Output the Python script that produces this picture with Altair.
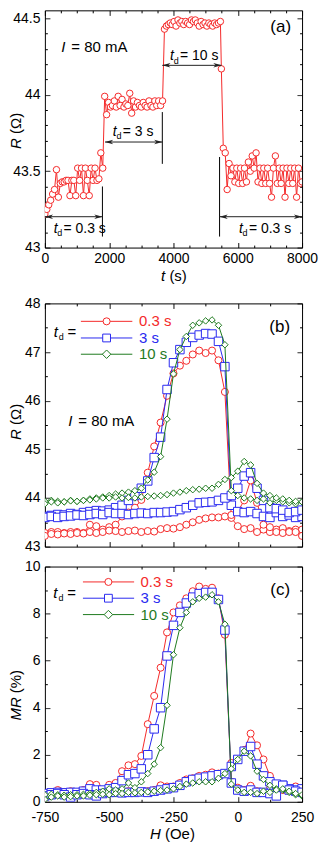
import altair as alt
import pandas as pd

FONT = "Liberation Sans"
RED, BLUE, GREEN = "#f42a2a", "#2a2af0", "#1f7a1f"
INK = "#222222"

# ---------------- panel (a): R vs t ----------------
t_a = [0, 60, 120, 180, 240, 300, 360, 420, 480, 540, 600, 660, 720, 780, 840, 900,
       960, 1020, 1080, 1140, 1200, 1260, 1320, 1380, 1440, 1500, 1560, 1620, 1680, 1740, 1800,
       1860, 1920, 1980, 2040, 2100, 2160, 2220, 2280, 2340, 2400, 2460, 2520, 2580, 2640, 2700,
       2760, 2820, 2880, 2940, 3000, 3060, 3120, 3180, 3240, 3300, 3360, 3420, 3480, 3540, 3600, 3660,
       3720, 3780, 3840, 3900, 3960, 4020, 4080, 4140, 4200, 4260, 4320, 4380, 4440, 4500, 4560,
       4620, 4680, 4740, 4800, 4860, 4920, 4980, 5040, 5100, 5160, 5220, 5280, 5340, 5400, 5460,
       5490, 5550, 5610, 5670, 5730, 5790, 5850, 5910, 5970, 6030, 6090, 6150, 6210, 6270, 6330,
       6390, 6450, 6510, 6570, 6630, 6690, 6750, 6810, 6870, 6930, 6990, 7050, 7110, 7170, 7230,
       7290, 7350, 7410, 7470, 7530, 7590, 7650, 7710, 7770, 7830, 7890, 7950, 8000]
R_a = [43.22, 43.25, 43.28, 43.31, 43.35, 43.38, 43.51, 43.33, 43.42, 43.43, 43.43, 43.44, 43.44,
       43.34, 43.44, 43.44, 43.34, 43.52, 43.44, 43.52, 43.34, 43.52, 43.44, 43.34, 43.52, 43.44,
       43.52, 43.44, 43.45, 43.62, 43.52,
       43.99, 43.87, 43.95, 43.92, 43.93, 43.96, 43.92, 43.99, 43.93, 43.97, 43.92, 43.94, 43.93,
       44.01, 43.88, 43.96, 43.92, 43.95, 43.93, 43.92, 43.95, 43.93, 43.92, 43.96, 43.93, 43.92,
       43.96, 43.93, 43.96, 43.93, 43.96,
       44.43, 44.45, 44.46, 44.47, 44.46, 44.48, 44.45, 44.49, 44.47, 44.48, 44.46, 44.48, 44.47,
       44.46, 44.49, 44.48, 44.49, 44.47, 44.45, 44.48, 44.46, 44.47, 44.45, 44.47, 44.46, 44.45,
       44.47, 44.46, 44.47, 44.48,
       44.17, 43.65, 43.62, 43.38, 43.55, 43.47, 43.52, 43.43, 43.52, 43.42, 43.52, 43.42, 43.52,
       43.43, 43.56, 43.50, 43.60, 43.52, 43.62, 43.43, 43.52, 43.42, 43.52, 43.42, 43.52, 43.42,
       43.33, 43.52, 43.60, 43.42, 43.52, 43.42, 43.52, 43.33, 43.52, 43.42, 43.52, 43.42, 43.52,
       43.33, 43.52, 43.42, 43.43]

# annotations of panel (a), in data units
arrow_t1 = [0, 1872, 3653, 5434]
arrow_t2 = [1790, 3653, 5494, 8000]
arrow_R = [43.202, 43.691, 44.193, 43.202]
vline_t = [1790, 3653, 5434]
vline_R1 = [43.072, 43.548, 43.072]
vline_R2 = [43.40, 43.887, 43.593]
td_t = [272, 2113, 3894, 6038]
td_R = [43.124, 43.757, 44.252, 43.124]
td_text = ["= 0.3 s", "= 3 s", "= 10 s", "= 0.3 s"]
note_a = {"tag": (7336, 44.441), "current": (513, 44.311)}

# ---------------- panels (b), (c): field sweeps ----------------
H = [-750, -725, -700, -675, -650, -625, -600, -575, -550, -525, -500, -475, -450, -425,
     -400, -375, -350, -325, -300, -275, -250, -225, -200, -175, -150, -125, -100, -75,
     -50, -25, 0, 25, 50, 75, 100, 125, 150, 175, 200, 225, 250]
series = ["0.3 s", "3 s", "10 s"]

# R (ohm): branch with the large peak (A) and branch with the small peak (B)
R_03_A = [43.28, 43.30, 43.30, 43.28, 43.30, 43.30, 43.28, 43.45, 43.42, 43.35, 43.40, 43.45, 43.62, 43.70,
          43.80, 43.96, 44.52, 45.06, 45.55, 46.10, 46.56, 46.72, 46.82, 46.95, 47.03, 46.98, 47.03, 46.83,
          46.18, 43.59, 43.42, 43.36, 43.38, 43.30, 43.35, 43.30, 43.35, 43.38, 43.32, 43.35, 43.35]
R_03_B = [43.22, 43.26, 43.25, 43.27, 43.26, 43.28, 43.27, 43.30, 43.28, 43.30, 43.33, 43.32, 43.30, 43.32,
          43.33, 43.30, 43.32, 43.31, 43.36, 43.38, 43.37, 43.40, 43.45, 43.50, 43.55, 43.58, 43.60, 43.60,
          43.62, 43.65, 43.72, 43.95, 44.36, 43.90, 43.45, 43.40, 43.30, 43.28, 43.30, 43.30, 43.22]
R_3_A = [43.62, 43.64, 43.66, 43.65, 43.68, 43.66, 43.70, 43.72, 43.74, 43.73, 43.75, 43.80, 43.85, 43.95,
         44.05, 44.20, 44.35, 44.83, 45.25, 46.23, 46.78, 47.05, 47.20, 47.30, 47.35, 47.38, 47.37, 47.22,
         46.70, 43.85, 43.72, 43.70, 43.72, 43.68, 43.62, 43.60, 43.70, 43.62, 43.65, 43.60, 43.62]
R_3_B = [43.60, 43.62, 43.60, 43.62, 43.63, 43.65, 43.64, 43.66, 43.68, 43.66, 43.70, 43.68, 43.68, 43.66,
         43.68, 43.69, 43.68, 43.70, 43.70, 43.71, 43.72, 43.76, 43.80, 43.85, 43.90, 43.91, 43.92, 43.95,
         44.00, 44.05, 44.20, 44.45, 44.52, 44.20, 43.95, 43.80, 43.78, 43.75, 43.70, 43.72, 43.75]
R_10_A = [43.93, 43.95, 43.93, 43.92, 43.95, 43.93, 43.95, 43.98, 44.00, 44.02, 44.05, 44.08, 44.10, 44.12,
          44.15, 44.20, 44.37, 44.53, 44.85, 45.62, 46.55, 47.05, 47.32, 47.55, 47.60, 47.64, 47.66, 47.55,
          47.15, 44.15, 44.05, 44.00, 43.98, 43.95, 43.98, 43.90, 43.95, 43.92, 43.90, 43.88, 43.92]
R_10_B = [43.88, 43.92, 43.90, 43.92, 43.94, 43.93, 43.95, 43.96, 43.98, 44.00, 44.00, 44.02, 44.00, 44.01,
          44.00, 44.02, 44.03, 44.04, 44.05, 44.07, 44.10, 44.12, 44.15, 44.17, 44.18, 44.20, 44.20, 44.28,
          44.38, 44.42, 44.55, 44.75, 44.68, 44.30, 44.10, 44.05, 44.00, 43.98, 43.95, 43.93, 43.92]

# MR (%)
MR_03_A = [0.35, 0.40, 0.45, 0.42, 0.45, 0.40, 0.50, 0.75, 0.72, 0.50, 0.72, 0.80, 1.30, 1.55,
           1.60, 1.95, 3.30, 4.50, 5.70, 7.20, 8.05, 8.35, 8.65, 8.95, 9.15, 9.05, 9.10, 8.65,
           7.10, 0.85, 0.60, 0.50, 0.68, 0.45, 0.40, 0.55, 0.60, 0.50, 0.55, 0.62, 0.50]
MR_03_B = [0.20, 0.30, 0.50, 0.35, 0.30, 0.35, 0.30, 0.40, 0.35, 0.40, 0.45, 0.40, 0.42, 0.45,
           0.45, 0.42, 0.45, 0.50, 0.70, 0.65, 0.65, 0.80, 0.95, 1.00, 1.10, 1.15, 1.25, 1.20,
           1.20, 1.65, 1.80, 2.20, 2.90, 2.40, 1.80, 1.10, 0.70, 0.60, 0.50, 0.65, 0.35]
MR_3_A = [0.35, 0.38, 0.40, 0.38, 0.40, 0.40, 0.45, 0.55, 0.50, 0.50, 0.55, 0.60, 0.90, 1.15,
          1.20, 1.40, 2.00, 3.10, 4.00, 6.20, 7.50, 8.05, 8.45, 8.70, 8.85, 8.90, 8.90, 8.60,
          7.30, 0.80, 0.50, 0.45, 0.50, 0.40, 0.40, 0.35, 0.25, 0.70, 0.55, 0.50, 0.55]
MR_3_B = [0.25, 0.30, 0.35, 0.30, 0.20, 0.30, 0.35, 0.30, 0.25, 0.35, 0.40, 0.40, 0.38, 0.40,
          0.40, 0.42, 0.40, 0.45, 0.50, 0.55, 0.60, 0.70, 0.85, 0.95, 1.00, 1.05, 1.10, 1.15,
          1.20, 1.50, 1.80, 2.15, 2.35, 1.60, 1.10, 0.85, 0.75, 0.70, 0.50, 0.45, 0.40]
MR_10_A = [0.30, 0.32, 0.30, 0.28, 0.30, 0.30, 0.32, 0.35, 0.40, 0.45, 0.55, 0.50, 0.55, 0.80,
           0.60, 0.85, 1.20, 1.60, 2.30, 4.10, 6.25, 7.40, 8.05, 8.50, 8.65, 8.70, 8.80, 8.50,
           7.55, 0.75, 0.50, 0.40, 0.40, 0.35, 0.45, 0.40, 0.55, 0.50, 0.40, 0.30, 0.25]
MR_10_B = [0.10, 0.20, 0.25, 0.20, 0.22, 0.25, 0.25, 0.28, 0.30, 0.32, 0.30, 0.35, 0.35, 0.40,
           0.38, 0.40, 0.42, 0.45, 0.48, 0.50, 0.55, 0.65, 0.75, 0.80, 0.85, 0.85, 0.85, 1.00,
           1.20, 1.40, 1.80, 2.15, 1.95, 1.30, 0.95, 0.70, 0.50, 0.55, 0.45, 0.35, 0.30]

# legend and note placement (data units)
leg_b_H = [-610, -410, -510, -384, -716]
leg_b_y = [47.631, 47.289, 46.955]
leg_c_H = [-602, -403, -503, -378, -717]
leg_c_y = [9.346, 8.654, 7.958]
note_b = {"tag": (163, 47.514), "current": (-659, 45.582)}
note_c = {"tag": (165, 9.0)}

# tick values
ticks_a_x = [0, 500, 1000, 1500, 2000, 2500, 3000, 3500, 4000, 4500, 5000, 5500, 6000, 6500, 7000, 7500, 8000]
ticks_a_y = [43.0, 43.1, 43.2, 43.3, 43.4, 43.5, 43.6, 43.7, 43.8, 43.9, 44.0, 44.1, 44.2, 44.3, 44.4, 44.5]
ticks_H = [-750, -625, -500, -375, -250, -125, 0, 125, 250]
ticks_b_y = [43, 43.5, 44, 44.5, 45, 45.5, 46, 46.5, 47, 47.5, 48]
ticks_c_y = [0, 1, 2, 3, 4, 5, 6, 7, 8, 9, 10]

COLORS = alt.Scale(domain=series, range=[RED, BLUE, GREEN])
TEXTCOL = alt.Scale(domain=series, range=["#ff0000", "#0000ff", "#1a7a1a"])
SHAPES = alt.Scale(domain=series, range=["circle", "square", "diamond"])
SIZE_LIST = [50, 72, 42]
SIZES = alt.Scale(domain=series, range=SIZE_LIST)
W = 258
TX = -24  # baseline of the rotated y titles, relative to the plot's left edge


def axis(orient, values, major, labels, pad=10):
    kw = dict(orient=orient, values=values, title=None, domain=False, grid=False,
              tickSize={"expr": "-5"}, tickColor="black", tickWidth=1, minExtent=0,
              tickDash={"condition": {"test": f"!({major})", "value": [2.5, 20]}, "value": [1, 0]},
              labels=labels)
    if labels:
        kw.update(labelExpr=f"({major}) ? ('' + datum.value) : ''", labelFont=FONT,
                  labelFontSize=14, labelColor="black", labelPadding=pad,
                  labelFlush=False, labelOverlap=False, labelBound=False)
    return alt.Axis(**kw)


def txt(s, x, y, size=15, italic=False, angle=0, color="black", align="left", baseline="alphabetic"):
    kw = dict(text=s, font=FONT, fontSize=size, color=color, align=align, baseline=baseline)
    if italic:
        kw["fontStyle"] = "italic"
    if angle:
        kw["angle"] = angle
    return alt.Chart(pd.DataFrame({"k": [0]})).mark_text(**kw).encode(x=alt.value(x), y=alt.value(y))


def dtxt(s, xy, scx, scy, size=15, italic=False, align="left", dx=0):
    kw = dict(text=s, font=FONT, fontSize=size, color="black", align=align, baseline="middle", dx=dx)
    if italic:
        kw["fontStyle"] = "italic"
    return alt.Chart(pd.DataFrame({"x": [xy[0]], "y": [xy[1]]})).mark_text(**kw).encode(
        x=alt.X("x:Q", scale=scx, axis=None), y=alt.Y("y:Q", scale=scy, axis=None))


def td_label(df, xf, yf, scx, scy, size=14, d_dx=3.6, d_dy=4.5, rest_dx=10, rest_field=None):
    base = alt.Chart(df).encode(x=alt.X(f"{xf}:Q", scale=scx, axis=None),
                                y=alt.Y(f"{yf}:Q", scale=scy, axis=None))
    layers = [
        base.mark_text(text="t", font=FONT, fontSize=size, fontStyle="italic", align="left",
                       baseline="middle", color="black"),
        base.mark_text(text="d", font=FONT, fontSize=9, align="left", baseline="middle",
                       dx=d_dx, dy=d_dy, color="black"),
    ]
    if rest_field:
        layers.append(base.mark_text(font=FONT, fontSize=size, align="left", baseline="middle",
                                     dx=rest_dx, color="black").encode(text=f"{rest_field}:N"))
    else:
        layers.append(base.mark_text(text="=", font=FONT, fontSize=size, align="left",
                                     baseline="middle", dx=rest_dx, color="black"))
    return layers


# ---------------- panel (a) ----------------
sx_a = alt.Scale(domain=[0, 8000], nice=False, zero=False)
sy_a = alt.Scale(domain=[43, 44.553], nice=False, zero=False)
df_a = pd.DataFrame({"t": t_a, "R": R_a})
MAJ_AX = "datum.value % 2000 === 0"
MAJ_AY = "abs(datum.value * 2 - round(datum.value * 2)) < 0.001"

a_line = alt.Chart(df_a).mark_line(color=RED, strokeWidth=1, clip=True).encode(
    x=alt.X("t:Q", scale=sx_a, axis=axis("bottom", ticks_a_x, MAJ_AX, True, pad=9)),
    y=alt.Y("R:Q", scale=sy_a, axis=axis("left", ticks_a_y, MAJ_AY, True)))
a_pts = alt.Chart(df_a).mark_point(shape="circle", filled=True, fill="white", stroke=RED,
                                   strokeWidth=1, size=42, opacity=1, clip=True).encode(
    x=alt.X("t:Q", scale=sx_a, axis=None), y=alt.Y("R:Q", scale=sy_a, axis=None))
a_mirror = alt.Chart(df_a).mark_point(opacity=0).encode(
    x=alt.X("t:Q", scale=sx_a, axis=axis("top", ticks_a_x, MAJ_AX, False)),
    y=alt.Y("R:Q", scale=sy_a, axis=axis("right", ticks_a_y, MAJ_AY, False)))

arr = pd.DataFrame({"t1": arrow_t1, "t2": arrow_t2, "R": arrow_R})
a_arrow = alt.Chart(arr).mark_rule(color=INK, strokeWidth=1).encode(
    x=alt.X("t1:Q", scale=sx_a, axis=None), x2="t2:Q", y=alt.Y("R:Q", scale=sy_a, axis=None))
HEAD_L = "M-1,0L1,-0.55L0.45,0L1,0.55Z"
HEAD_R = "M1,0L-1,-0.55L-0.45,0L-1,0.55Z"
a_head_l = alt.Chart(arr).mark_point(shape=HEAD_L, filled=True, color=INK, size=70, xOffset=4,
                                     opacity=1).encode(
    x=alt.X("t1:Q", scale=sx_a, axis=None), y=alt.Y("R:Q", scale=sy_a, axis=None))
a_head_r = alt.Chart(arr).mark_point(shape=HEAD_R, filled=True, color=INK, size=70, xOffset=-4,
                                     opacity=1).encode(
    x=alt.X("t2:Q", scale=sx_a, axis=None), y=alt.Y("R:Q", scale=sy_a, axis=None))
vl = pd.DataFrame({"t": vline_t, "R1": vline_R1, "R2": vline_R2})
a_vl = alt.Chart(vl).mark_rule(color="black", strokeWidth=1).encode(
    x=alt.X("t:Q", scale=sx_a, axis=None), y=alt.Y("R1:Q", scale=sy_a, axis=None), y2="R2:Q")
tdd = pd.DataFrame({"t": td_t, "R": td_R, "rest": td_text})
a_td = td_label(tdd, "t", "R", sx_a, sy_a, rest_field="rest")

panel_a = alt.layer(
    a_line, a_pts, a_mirror, a_vl, a_arrow, a_head_l, a_head_r, *a_td,
    dtxt("I", note_a["current"], sx_a, sy_a, italic=True),
    dtxt("= 80 mA", note_a["current"], sx_a, sy_a, dx=10),
    dtxt("(a)", note_a["tag"], sx_a, sy_a, size=17, align="center"),
    txt("t", 116.5, 272, italic=True), txt("(s)", 124.9, 272),
    txt("R", TX, 139, italic=True, angle=270), txt("(Ω)", TX, 124, angle=270),
).resolve_axis(x="independent", y="independent").properties(width=W, height=238)


# ---------------- panels (b), (c) ----------------
def sweep_df(vals):
    rows = []
    for s, (a, b) in zip(series, vals):
        for br, arr_ in (("A", a), ("B", b)):
            for h, v in zip(H, arr_):
                rows.append({"H": h, "v": v, "series": s, "branch": br})
    return pd.DataFrame(rows)


def sweep_panel(df, sy, yticks, ymaj, xlabels, h, leg_H, leg_y, notes, titles, xpad=10):
    sx = alt.Scale(domain=[-750, 250], nice=False, zero=False)
    MAJ_X = "datum.value % 250 === 0"
    layers = []
    for i, s in enumerate(series):
        d = df[df.series == s]
        col = [RED, BLUE, GREEN][i]
        shp = ["circle", "square", "diamond"][i]
        if i == 0:
            xe = alt.X("H:Q", scale=sx, axis=axis("bottom", ticks_H, MAJ_X, xlabels, pad=xpad))
            ye = alt.Y("v:Q", scale=sy, axis=axis("left", yticks, ymaj, True))
        else:
            xe = alt.X("H:Q", scale=sx, axis=None)
            ye = alt.Y("v:Q", scale=sy, axis=None)
        layers.append(alt.Chart(d).mark_line(color=col, strokeWidth=1, clip=True).encode(
            x=xe, y=ye, detail="branch:N", order="H:Q"))
        layers.append(alt.Chart(d).mark_point(shape=shp, filled=True, fill="white", stroke=col,
                                              strokeWidth=1, size=SIZE_LIST[i], opacity=1, clip=True).encode(
            x=alt.X("H:Q", scale=sx, axis=None), y=alt.Y("v:Q", scale=sy, axis=None)))
    layers.append(alt.Chart(df).mark_point(opacity=0).encode(
        x=alt.X("H:Q", scale=sx, axis=axis("top", ticks_H, MAJ_X, False)),
        y=alt.Y("v:Q", scale=sy, axis=axis("right", yticks, ymaj, False))))
    # hand-drawn legend
    lg = pd.DataFrame({"series": series, "H1": [leg_H[0]] * 3, "H2": [leg_H[1]] * 3,
                       "Hm": [leg_H[2]] * 3, "Ht": [leg_H[3]] * 3, "y": leg_y})
    layers.append(alt.Chart(lg).mark_rule(strokeWidth=1).encode(
        x=alt.X("H1:Q", scale=sx, axis=None), x2="H2:Q", y=alt.Y("y:Q", scale=sy, axis=None),
        color=alt.Color("series:N", scale=COLORS, legend=None)))
    layers.append(alt.Chart(lg).mark_point(filled=True, fill="white", strokeWidth=1, opacity=1).encode(
        x=alt.X("Hm:Q", scale=sx, axis=None), y=alt.Y("y:Q", scale=sy, axis=None),
        stroke=alt.Stroke("series:N", scale=COLORS, legend=None),
        shape=alt.Shape("series:N", scale=SHAPES, legend=None),
        size=alt.Size("series:N", scale=SIZES, legend=None)))
    layers.append(alt.Chart(lg).mark_text(font=FONT, fontSize=15, align="left", baseline="middle").encode(
        x=alt.X("Ht:Q", scale=sx, axis=None), y=alt.Y("y:Q", scale=sy, axis=None),
        text="series:N", color=alt.Color("series:N", scale=TEXTCOL, legend=None)))
    tdf = pd.DataFrame({"H": [leg_H[4]], "y": [(leg_y[0] + leg_y[1] * 2) / 3]})
    layers += td_label(tdf, "H", "y", sx, sy, size=15, d_dx=5.2, d_dy=5, rest_dx=14)
    layers.append(dtxt(notes["tag"][2], notes["tag"][:2], sx, sy, size=17, align="center"))
    if "current" in notes:
        layers.append(dtxt("I", notes["current"], sx, sy, italic=True))
        layers.append(dtxt("= 80 mA", notes["current"], sx, sy, dx=10))
    layers += titles
    return alt.layer(*layers).resolve_axis(x="independent", y="independent").properties(width=W, height=h)


df_b = sweep_df([(R_03_A, R_03_B), (R_3_A, R_3_B), (R_10_A, R_10_B)])
df_c = sweep_df([(MR_03_A, MR_03_B), (MR_3_A, MR_3_B), (MR_10_A, MR_10_B)])

panel_b = sweep_panel(
    df_b, alt.Scale(domain=[43, 48], nice=False, zero=False), ticks_b_y,
    "abs(datum.value - round(datum.value)) < 0.001", False, 244, leg_b_H, leg_b_y,
    {"tag": note_b["tag"] + ("(b)",), "current": note_b["current"]},
    [txt("R", TX, 137, italic=True, angle=270), txt("(Ω)", TX, 122, angle=270)])
panel_c = sweep_panel(
    df_c, alt.Scale(domain=[0, 10], nice=False, zero=False), ticks_c_y,
    "datum.value % 2 === 0", True, 236, leg_c_H, leg_c_y,
    {"tag": note_c["tag"] + ("(c)",)},
    [txt("H", 105.5, 273, italic=True), txt("(Oe)", 120.5, 273),
     txt("MR", TX, 154.5, italic=True, angle=270), txt("(%)", TX, 127, angle=270)],
    xpad=14)

chart = alt.vconcat(
    panel_a,
    alt.vconcat(panel_b, panel_c, spacing=20, bounds="flush"),
    spacing=56, bounds="flush",
).properties(padding=0, background="white").configure_view(stroke="black", strokeWidth=1)

chart.save("out.html", embed_options={"renderer": "svg", "actions": False})
